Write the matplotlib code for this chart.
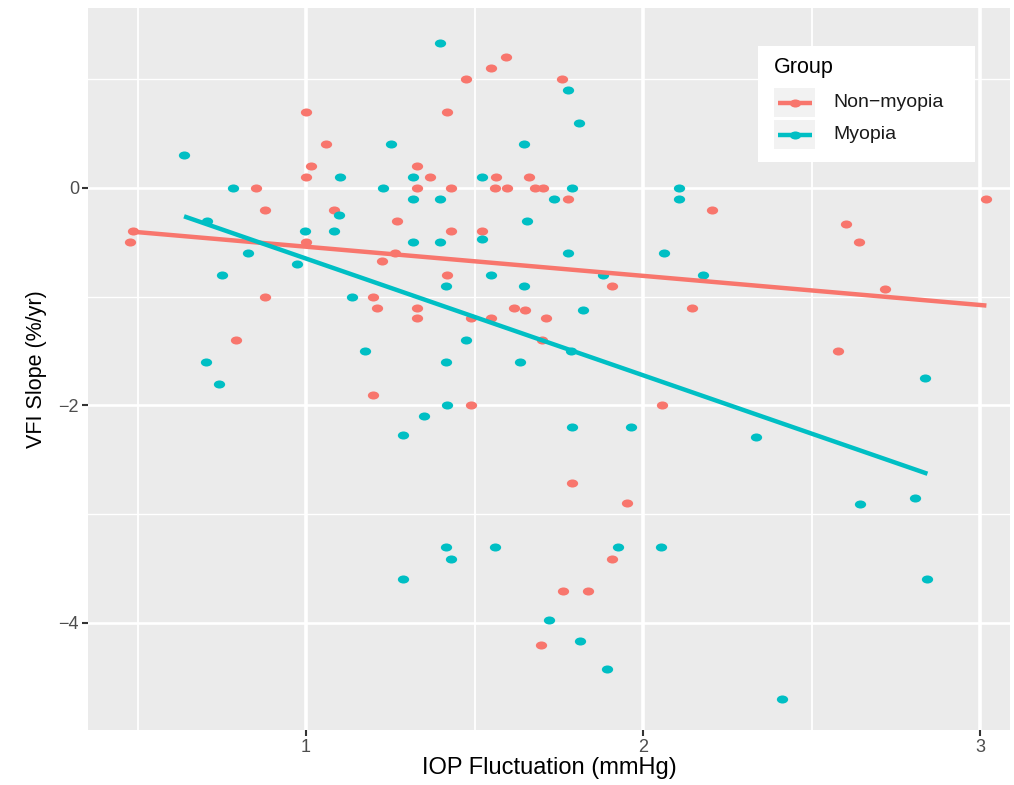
import matplotlib
matplotlib.use("Agg")
import matplotlib.pyplot as plt
from matplotlib.path import Path
from matplotlib.patches import Rectangle
from matplotlib.ticker import FixedLocator
import numpy as np

plt.rcParams['font.family'] = ['Liberation Sans', 'DejaVu Sans']

groups = ["Non\u2212myopia", "Myopia"]
colors = ["#F8766D", "#00BFC4"]

# Non-myopia points (IOP fluctuation, VFI slope)
nonmyopia_x = [1.00, 1.06, 1.015, 1.00, 1.33, 1.33, 0.853, 0.878, 1.082, 1.269,
               0.488, 0.478, 1.00, 1.265, 1.226, 0.878, 1.198, 1.212, 1.33, 1.33,
               0.792, 1.198, 1.593, 1.548, 1.475, 1.761, 1.418, 1.369, 1.565, 1.661,
               1.429, 1.562, 1.595, 1.68, 1.702, 1.777, 2.205, 1.429, 1.522, 1.418,
               1.908, 1.618, 1.649, 2.145, 1.49, 1.548, 1.711, 1.70, 1.49, 2.057,
               1.789, 1.951, 1.908, 1.764, 1.836, 1.698, 3.019, 2.602, 2.641, 2.717,
               2.58]
nonmyopia_y = [0.70, 0.40, 0.20, 0.10, 0.20, 0.00, 0.00, -0.20, -0.20, -0.30,
               -0.40, -0.50, -0.50, -0.60, -0.67, -1.00, -1.00, -1.10, -1.10, -1.20,
               -1.40, -1.90, 1.20, 1.10, 1.00, 1.00, 0.70, 0.10, 0.10, 0.10,
               0.00, 0.00, 0.00, 0.00, 0.00, -0.10, -0.20, -0.40, -0.40, -0.80,
               -0.90, -1.10, -1.12, -1.10, -1.20, -1.20, -1.20, -1.40, -2.00, -2.00,
               -2.71, -2.90, -3.41, -3.71, -3.71, -4.20, -0.10, -0.33, -0.50, -0.93,
               -1.50]

# Myopia points
myopia_x = [0.638, 1.252, 1.10, 1.317, 0.784, 1.229, 1.317, 1.098, 0.705, 0.997,
            1.082, 1.317, 0.828, 0.974, 0.75, 1.137, 1.175, 0.703, 0.743, 1.287,
            1.287, 1.398, 1.777, 1.81, 1.647, 1.522, 1.789, 2.106, 1.398, 1.736,
            2.106, 1.657, 1.522, 1.398, 1.777, 2.062, 1.548, 1.882, 2.177, 1.415,
            1.647, 1.823, 1.475, 1.787, 1.415, 1.634, 1.418, 1.35, 1.789, 1.965,
            1.415, 1.562, 1.927, 2.053, 1.429, 1.721, 1.814, 1.894, 2.837, 2.336,
            2.643, 2.806, 2.844, 2.411]
myopia_y = [0.30, 0.40, 0.10, 0.10, 0.00, 0.00, -0.10, -0.25, -0.30, -0.40,
            -0.40, -0.50, -0.60, -0.70, -0.80, -1.00, -1.50, -1.60, -1.80, -2.27,
            -3.60, 1.33, 0.90, 0.60, 0.40, 0.10, 0.00, 0.00, -0.10, -0.10,
            -0.10, -0.30, -0.47, -0.50, -0.60, -0.60, -0.80, -0.80, -0.80, -0.90,
            -0.90, -1.12, -1.40, -1.50, -1.60, -1.60, -2.00, -2.10, -2.20, -2.20,
            -3.30, -3.30, -3.30, -3.30, -3.41, -3.97, -4.17, -4.42, -1.75, -2.29,
            -2.91, -2.85, -3.60, -4.70]

# linear fits as drawn in the picture: (slope, intercept)
fit_nonmyopia = (-0.268, -0.272)
fit_myopia = (-1.073, 0.424)

x_ticks = [1, 2, 3]
y_ticks = [-4, -2, 0]
x_minor = [0.5, 1.5, 2.5]
y_minor = [-5, -3, -1, 1]

# the original is a little stretched sideways, so dots are wider than tall
circ = Path.unit_circle()
dot = Path(circ.vertices * [1.4, 1.0], circ.codes)

W, H = 1014, 785
fig = plt.figure(figsize=(W / 100, H / 100), dpi=100)
ax = fig.add_axes([88 / W, 55 / H, 922 / W, 722 / H])
ax.set_facecolor("#EBEBEB")
for s in ax.spines.values():
    s.set_visible(False)
ax.set_xlim(0.353, 3.089)
ax.set_ylim(-4.984, 1.655)
ax.xaxis.set_major_locator(FixedLocator(x_ticks))
ax.yaxis.set_major_locator(FixedLocator(y_ticks))
ax.xaxis.set_minor_locator(FixedLocator(x_minor))
ax.yaxis.set_minor_locator(FixedLocator(y_minor))
ax.grid(axis='x', which='major', color='white', lw=2.6)
ax.grid(axis='x', which='minor', color='white', lw=1.3)
ax.grid(axis='y', which='major', color='white', lw=1.9)
ax.grid(axis='y', which='minor', color='white', lw=0.95)
ax.set_axisbelow(True)
ax.tick_params(which='minor', length=0)
ax.tick_params(which='major', length=4.5, width=1.5, color='#333333',
               labelsize=13, labelcolor='#4D4D4D', pad=2)

series = [(nonmyopia_x, nonmyopia_y, fit_nonmyopia),
          (myopia_x, myopia_y, fit_myopia)]
for (xs, ys, fit), c in zip(series, colors):
    ax.scatter(xs, ys, s=66, marker=dot, color=c, linewidths=0, zorder=2)
for (xs, ys, fit), c in zip(series, colors):
    xr = np.array([min(xs), max(xs)])
    ax.plot(xr, fit[0] * xr + fit[1], color=c, lw=3.2, solid_capstyle='butt', zorder=3)

ax.set_xlabel("IOP Fluctuation (mmHg)", fontsize=17, color='black', labelpad=1)
ax.set_ylabel("VFI Slope (%/yr)", fontsize=15.5, color='black', labelpad=8)

# legend box, drawn in pixel units of the original
lax = fig.add_axes([758 / W, (H - 162) / H, (975 - 758) / W, (162 - 46) / H])
lax.set_xlim(758, 975)
lax.set_ylim(162, 46)
lax.axis('off')
lax.add_patch(Rectangle((758, 46), 217, 116, facecolor='white', edgecolor='none'))
lax.text(774, 68, "Group", fontsize=15.5, va='center', ha='left')
key_tops = [88, 120]
for g, c, top in zip(groups, colors, key_tops):
    lax.add_patch(Rectangle((774, top), 41, 29, facecolor='#F2F2F2', edgecolor='none'))
    yc = top + 14.5
    lax.plot([778, 812], [yc, yc], color=c, lw=3.2, solid_capstyle='butt')
    lax.scatter([795], [yc], s=66, marker=dot, color=c, linewidths=0, zorder=3)
    lax.text(833, yc, g, fontsize=14, va='center', ha='left', color='#1A1A1A')

fig.savefig("out.png", dpi=100)
